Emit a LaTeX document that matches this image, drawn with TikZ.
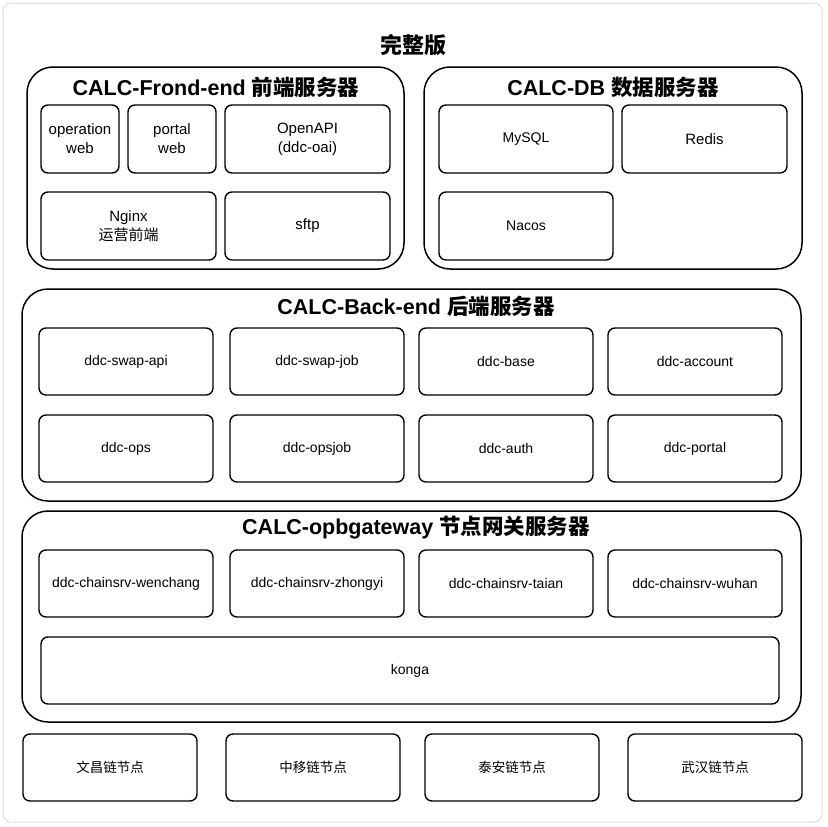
\documentclass[tikz,border=0pt]{standalone}
\usepackage{fontspec}
\setmainfont{Liberation Sans}
\newfontfamily\cjk{Noto Sans CJK SC}
\usetikzlibrary{positioning}
\definecolor{cframe}{HTML}{DDDDDD}
\tikzset{
  box/.style={draw, rounded corners=7pt, line width=1.4pt, align=center, inner sep=2pt,
    minimum height=67, font=\fontsize{14}{19}\selectfont},
  bigbox/.style={box, font=\fontsize{15}{19}\selectfont},
  grp/.style={draw, rounded corners=26pt, line width=1.5pt},
  ttl/.style={font=\bfseries\fontsize{21.5}{24}\selectfont},
  chain/.style={box, minimum width=174, font=\cjk\fontsize{13.5}{16}\selectfont},
}
\begin{document}
\begin{tikzpicture}[x=1pt, y=-1pt]
\useasboundingbox (0,0) rectangle (828,827);
\draw[cframe, line width=1pt, rounded corners=8pt] (3,3) rectangle (822,822);
\node[font=\cjk\bfseries\fontsize{22}{24}\selectfont] (title) at (413,45) {完整版};
% front-end
\node[grp, minimum width=377, minimum height=202] (front) at (215.5,168) {};
\node[ttl] (tfront) at (216,87) {CALC-Frond-end {\cjk 前端服务器}};
\node[bigbox, minimum width=78, minimum height=68] (opweb) at (80,139) {operation\\web};
\node[bigbox, minimum width=88, minimum height=68] (ptweb) at (172,139) {portal\\web};
\node[bigbox, minimum width=165, minimum height=68] (oapi) at (307.5,139) {OpenAPI\\(ddc-oai)};
\node[bigbox, minimum width=175, minimum height=68] (nginx) at (128.5,226) {Nginx\\{\cjk 运营前端}};
\node[bigbox, minimum width=165, minimum height=68] (sftp) at (307.5,226) {sftp};
% database
\node[grp, minimum width=378, minimum height=202] (db) at (613,168) {};
\node[ttl] (tdb) at (613,87) {CALC-DB {\cjk 数据服务器}};
\node[box, minimum width=174, minimum height=68] (mysql) at (526,139) {MySQL};
\node[bigbox, minimum width=165, minimum height=68] (redis) at (704.5,139) {Redis};
\node[box, minimum width=174, minimum height=68] (nacos) at (526,226) {Nacos};
% back-end
\node[grp, minimum width=779, minimum height=212] (back) at (411.5,395) {};
\node[ttl] (tback) at (416,306) {CALC-Back-end {\cjk 后端服务器}};
\foreach \x/\n/\t in {126/swapapi/ddc-swap-api, 317/swapjob/ddc-swap-job, 506/base/ddc-base, 695/account/ddc-account}
  \node[box, minimum width=174] (\n) at (\x,361.5) {\t};
\foreach \x/\n/\t in {126/ops/ddc-ops, 317/opsjob/ddc-opsjob, 506/auth/ddc-auth, 695/portal/ddc-portal}
  \node[box, minimum width=174] (\n) at (\x,448.5) {\t};
% gateway
\node[grp, minimum width=779, minimum height=211] (gw) at (411.5,616.5) {};
\node[ttl] (tgw) at (416,528) {CALC-opbgateway {\cjk 节点网关服务器}};
\foreach \x/\n/\t in {126/wenchang/ddc-chainsrv-wenchang, 317/zhongyi/ddc-chainsrv-zhongyi, 506/taian/ddc-chainsrv-taian, 695/wuhan/ddc-chainsrv-wuhan}
  \node[box, minimum width=174] (srv-\n) at (\x,583.5) {\t};
\node[box, minimum width=738] (konga) at (410,670.5) {konga};
% chain nodes
\node[chain] (nwenchang) at (110,767.5) {文昌链节点};
\node[chain] (nzhongyi) at (313,767.5) {中移链节点};
\node[chain] (ntaian) at (512,767.5) {泰安链节点};
\node[chain] (nwuhan) at (715,767.5) {武汉链节点};
\end{tikzpicture}
\end{document}
